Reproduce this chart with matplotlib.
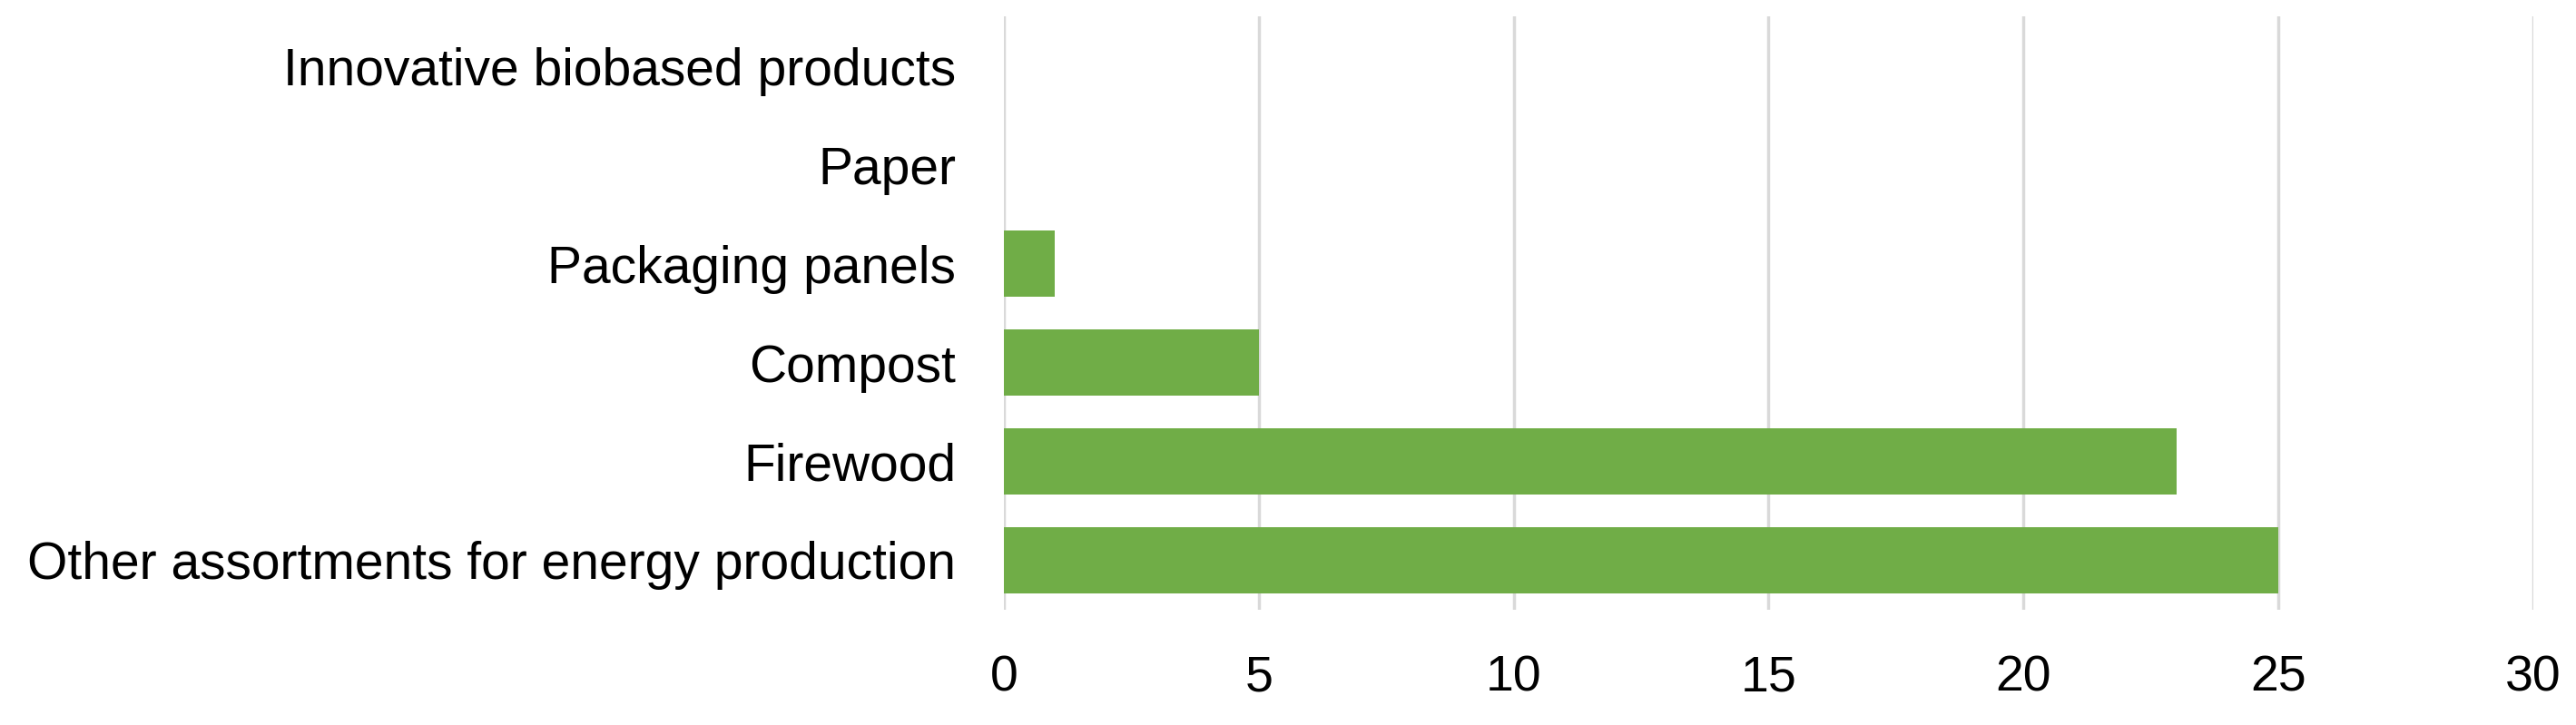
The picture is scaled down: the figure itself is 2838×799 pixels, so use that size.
"""Horizontal bar chart: bio-based product assortments."""
import matplotlib
matplotlib.use("Agg")
import matplotlib.pyplot as plt

categories = [
    "Other assortments for energy production",
    "Firewood",
    "Compost",
    "Packaging panels",
    "Paper",
    "Innovative biobased products",
]
values = [25, 23, 5, 1, 0, 0]
x_ticks = [0, 5, 10, 15, 20, 25, 30]

plt.rcParams["font.family"] = ["Liberation Sans", "DejaVu Sans"]

fig = plt.figure(figsize=(28.38, 7.99), dpi=100)
ax = fig.add_axes([0.3897, 0.159, 0.5937, 0.818])

ax.barh(range(len(categories)), values, height=0.67, color="#70AD47", zorder=2)
ax.set_yticks(range(len(categories)))
ax.set_yticklabels(categories)
ax.set_ylim(-0.5, len(categories) - 0.5)
ax.set_xlim(0, 30)
ax.set_xticks(x_ticks)

ax.grid(axis="x", color="#D9D9D9", linewidth=2.5, zorder=0)
for s in ax.spines.values():
    s.set_visible(False)
ax.tick_params(axis="x", length=0, pad=36, labelsize=40)
ax.tick_params(axis="y", length=0, pad=38, labelsize=41)

fig.savefig("out.png", dpi=100)
